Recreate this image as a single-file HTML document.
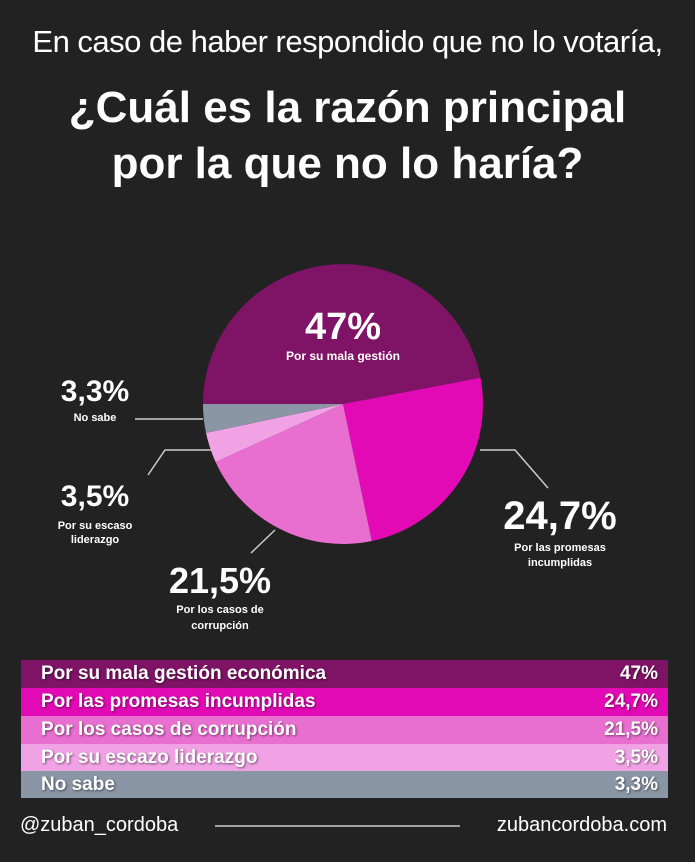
<!DOCTYPE html>
<html><head><meta charset="utf-8"><style>
body{margin:0;background:#222;width:695px;height:862px;overflow:hidden;font-family:"Liberation Sans",sans-serif;color:#fff;position:relative}
.t{position:absolute;white-space:nowrap}
.row{position:absolute;left:21px;width:647px;height:28px;font-weight:bold;font-size:19px;line-height:28px;text-shadow:1px 1px 2px rgba(0,0,0,.5)}
.row span{position:absolute;left:20px}.row b{position:absolute;right:10px}
</style></head><body>
<div class="t" style="left:0;width:695px;text-align:center;top:24px;font-size:31px;letter-spacing:-0.5px">En caso de haber respondido que no lo votaría,</div>
<div class="t" style="left:0;width:695px;text-align:center;top:80px;font-size:44px;font-weight:bold;line-height:56px">¿Cuál es la razón principal<br>por la que no lo haría?</div>
<svg width="695" height="862" style="position:absolute;left:0;top:0">
<g transform="translate(343,404)">
<path d="M0,0 L-140,0 A140,140 0 0 1 137.5,-26.2 Z" fill="#7f1466"/>
<path d="M0,0 L137.5,-26.2 A140,140 0 0 1 28.8,137 Z" fill="#e10ab4"/>
<path d="M0,0 L28.8,137 A140,140 0 0 1 -127.4,58 Z" fill="#e86fd0"/>
<path d="M0,0 L-127.4,58 A140,140 0 0 1 -137,28.9 Z" fill="#f0a2e4"/>
<path d="M0,0 L-137,28.9 A140,140 0 0 1 -140,0 Z" fill="#8a95a5"/>
</g>
<g stroke="#ccc" stroke-width="1.5" fill="none">
<path d="M135,419 H203"/>
<path d="M148,475 L165,450 H212"/>
<path d="M480,450 H515 L548,488"/>
<path d="M275,530 L251,553"/>
<path d="M215,826 H460"/>
</g>
</svg>
<div class="t" style="left:243px;width:200px;text-align:center;top:306px;font-size:38px;font-weight:bold">47%</div>
<div class="t" style="left:243px;width:200px;text-align:center;top:349px;font-size:12px;font-weight:bold">Por su mala gestión</div>
<div class="t" style="left:45px;width:100px;text-align:center;top:375px;font-size:30px;font-weight:bold">3,3%</div>
<div class="t" style="left:45px;width:100px;text-align:center;top:412px;font-size:11px;font-weight:bold">No sabe</div>
<div class="t" style="left:45px;width:100px;text-align:center;top:480px;font-size:30px;font-weight:bold">3,5%</div>
<div class="t" style="left:45px;width:100px;text-align:center;top:519px;font-size:11px;font-weight:bold;line-height:14px">Por su escaso<br>liderazgo</div>
<div class="t" style="left:470px;width:180px;text-align:center;top:494px;font-size:40px;font-weight:bold">24,7%</div>
<div class="t" style="left:470px;width:180px;text-align:center;top:541px;font-size:11px;font-weight:bold;line-height:15px">Por las promesas<br>incumplidas</div>
<div class="t" style="left:140px;width:160px;text-align:center;top:560px;font-size:36px;font-weight:bold">21,5%</div>
<div class="t" style="left:140px;width:160px;text-align:center;top:602px;font-size:11px;font-weight:bold;line-height:16px">Por los casos de<br>corrupción</div>
<div class="row" style="top:660px;background:#7f1466"><span>Por su mala gestión económica</span><b>47%</b></div>
<div class="row" style="top:688px;background:#e10ab4"><span>Por las promesas incumplidas</span><b>24,7%</b></div>
<div class="row" style="top:716px;background:#e86fd0"><span>Por los casos de corrupción</span><b>21,5%</b></div>
<div class="row" style="top:744px;background:#f0a2e4"><span>Por su escazo liderazgo</span><b>3,5%</b></div>
<div class="row" style="top:771px;height:27px;background:#8a95a5"><span>No sabe</span><b>3,3%</b></div>
<div class="t" style="left:20px;top:814px;font-size:20px">@zuban_cordoba</div>
<div class="t" style="right:28px;top:814px;font-size:20px">zubancordoba.com</div>
</body></html>
